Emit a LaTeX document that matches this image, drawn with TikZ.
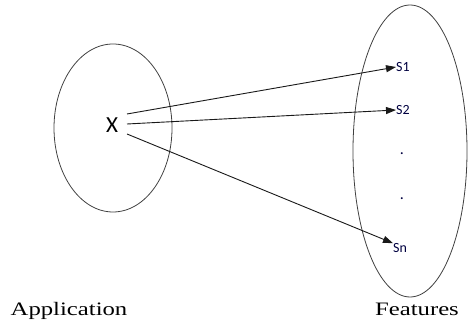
\documentclass[tikz,border=0pt]{standalone}
\usepackage{fontspec}
\setmainfont{Carlito}
\newfontfamily\labfont[FakeStretch=1.3]{Liberation Serif}
\usetikzlibrary{arrows.meta}
\begin{document}
\begin{tikzpicture}[x=1pt,y=1pt,
  set/.style={draw=black!75,line width=0.8pt},
  arr/.style={draw=black!90,line width=0.9pt,-{Triangle[length=10pt,width=7pt]}},
  elem/.style={inner sep=0pt,font=\fontsize{14}{16}\selectfont,text=black!75!blue},
  caption/.style={anchor=base,inner sep=0pt,font=\labfont\fontsize{19}{21}\selectfont}]
\useasboundingbox (0,0) rectangle (468,334);
\draw[set] (113,206) ellipse [x radius=59, y radius=84];
\draw[set] (410,183) ellipse [x radius=57, y radius=146];
\node[inner sep=0pt,font=\fontsize{23}{25}\selectfont] (x) at (112,209) {X};
\coordinate (a1) at (127,220);
\coordinate (a2) at (127,210);
\coordinate (a3) at (127,200);
\node[elem,anchor=west] (s1) at (396,267) {S1};
\node[elem,anchor=west] (s2) at (396,224) {S2};
\node[elem,font=\fontsize{16}{18}\selectfont] (d1) at (402,180) {.};
\node[elem,font=\fontsize{16}{18}\selectfont] (d2) at (402,135) {.};
\node[elem,anchor=west] (sn) at (393,86) {Sn};
\draw[arr] (a1) -- (s1.west);
\draw[arr] (a2) -- (s2.west);
\draw[arr] (a3) -- (sn.north west);
\node[caption] (app) at (69,18) {Application};
\node[caption] (feat) at (417,18) {Features};
\end{tikzpicture}
\end{document}
